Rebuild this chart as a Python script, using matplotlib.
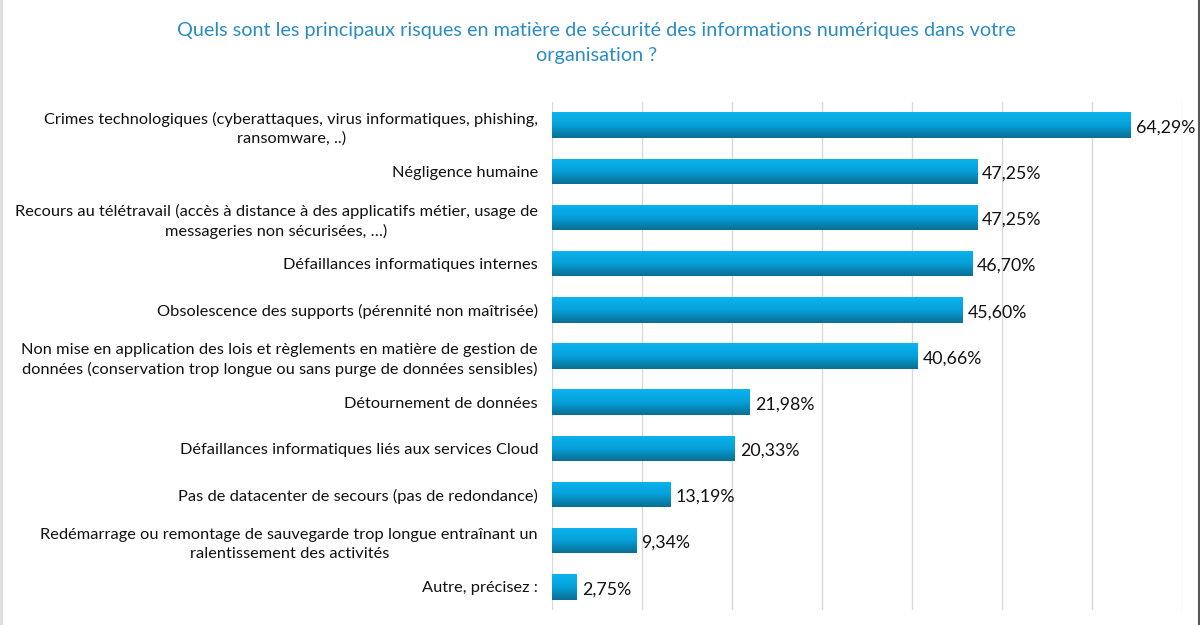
import numpy as np
import matplotlib.pyplot as plt
from matplotlib.colors import LinearSegmentedColormap
from matplotlib.lines import Line2D

plt.rcParams['font.family'] = ['Lato', 'DejaVu Sans']

categories = [
    "Crimes technologiques (cyberattaques, virus informatiques, phishing,\nransomware, ..)",
    "Négligence humaine",
    "Recours au télétravail (accès à distance à des applicatifs métier, usage de\nmessageries non sécurisées, …)",
    "Défaillances informatiques internes",
    "Obsolescence des supports (pérennité non maîtrisée)",
    "Non mise en application des lois et règlements en matière de gestion de\ndonnées (conservation trop longue ou sans purge de données sensibles)",
    "Détournement de données",
    "Défaillances informatiques liés aux services Cloud",
    "Pas de datacenter de secours (pas de redondance)",
    "Redémarrage ou remontage de sauvegarde trop longue entraînant un\nralentissement des activités",
    "Autre, précisez :",
]
values = [64.29, 47.25, 47.25, 46.70, 45.60, 40.66, 21.98, 20.33, 13.19, 9.34, 2.75]
value_labels = ["64,29%", "47,25%", "47,25%", "46,70%", "45,60%", "40,66%",
                "21,98%", "20,33%", "13,19%", "9,34%", "2,75%"]

title = ("Quels sont les principaux risques en matière de sécurité des informations numériques dans votre\n"
         "organisation ?")

fig = plt.figure(figsize=(12, 6.25), dpi=100)
ax = fig.add_axes([0.46, 0.024, 0.525, 0.8128])

grad = LinearSegmentedColormap.from_list("g", ["#0BB4EE", "#05A0DA", "#0A6E92"])
gimg = np.linspace(0, 1, 100).reshape(-1, 1)

y = np.arange(len(values))
h = 0.55
bars = ax.barh(y, values, height=h, color="none", edgecolor="none")
for b in bars:
    x0, y0 = b.get_x(), b.get_y()
    w, hh = b.get_width(), b.get_height()
    im = ax.imshow(gimg, cmap=grad, aspect="auto", origin="upper",
                   extent=[x0, x0 + w, y0 + hh, y0], zorder=2)
    im.set_clip_path(b)

for yi, v, lab in zip(y, values, value_labels):
    ax.text(v + 0.55, yi + 0.05, lab, va="center", ha="left", fontsize=12.8, color="#111111")

ax.set_xlim(0, 70)
ax.set_ylim(len(values) - 0.5, -0.5)
ax.set_xticks(np.arange(0, 71, 10))
ax.xaxis.grid(True, color="#D9D9D9", linewidth=1)
ax.set_axisbelow(True)
ax.tick_params(axis="x", length=0, labelbottom=False)
ax.tick_params(axis="y", length=0, pad=10)
ax.set_yticks(y)
ax.set_yticklabels(categories, fontsize=11.8, color="#111111",
                   multialignment="center", linespacing=1.4)
for s in ax.spines.values():
    s.set_visible(False)

fig.text(0.497, 0.965, title, ha="center", va="top", fontsize=14.3,
         color="#2A8CC4", multialignment="center", linespacing=1.6)

fig.add_artist(Line2D([0.999, 0.999], [0, 1], transform=fig.transFigure, color="#555555", lw=1.5))
fig.add_artist(Line2D([0.001, 0.001], [0, 1], transform=fig.transFigure, color="#DDDDDD", lw=2))

fig.savefig("out.png", dpi=100)
